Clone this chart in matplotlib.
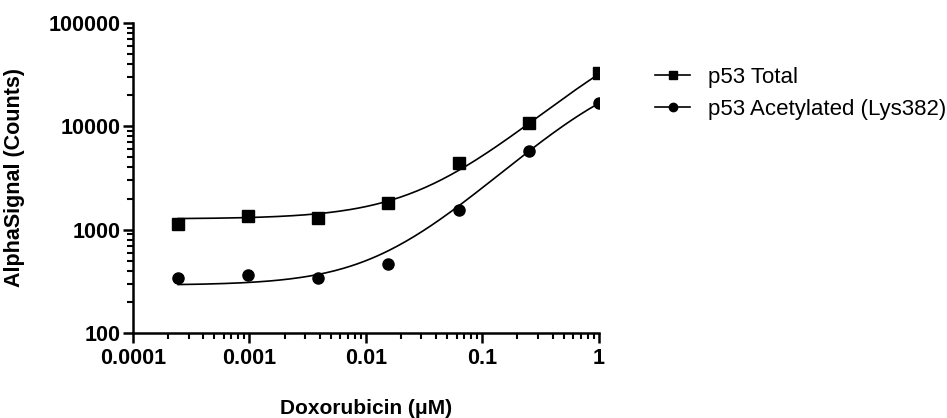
import matplotlib
matplotlib.use('Agg')
import matplotlib.pyplot as plt
import matplotlib.ticker as ticker
import numpy as np

plt.rcParams['font.family'] = ['Liberation Sans', 'DejaVu Sans']

# doxorubicin doses (uM), 4-fold dilutions
dose = [0.000244, 0.000977, 0.0039, 0.0156, 0.0625, 0.25, 1.0]
total = [1130, 1360, 1310, 1790, 4370, 10870, 32700]
acetyl = [342, 363, 342, 464, 1540, 5730, 16700]

# 4PL fit parameters (bottom, top, EC50, hill)
fit_total = (1270, 130270, 3.2, 1.0)
fit_acetyl = (290, 42790, 1.557, 1.05)

x_ticks = [0.0001, 0.001, 0.01, 0.1, 1]
x_labels = ['0.0001', '0.001', '0.01', '0.1', '1']
y_ticks = [100, 1000, 10000, 100000]
y_labels = ['100', '1000', '10000', '100000']


def four_pl(x, params):
    bottom, top, ec50, hill = params
    return bottom + (top - bottom) / (1 + (ec50 / x) ** hill)


fig = plt.figure(figsize=(9.47, 4.18), dpi=100)
ax = fig.add_axes([0.1404, 0.2033, 0.492, 0.742])

xs = np.logspace(np.log10(dose[0]), np.log10(dose[-1]), 200)
ax.plot(xs, four_pl(xs, fit_total), color='black', lw=1.2)
ax.plot(xs, four_pl(xs, fit_acetyl), color='black', lw=1.2)
ax.plot(dose, total, 's', color='black', ms=8, clip_on=True)
ax.plot(dose, acetyl, 'o', color='black', ms=8, clip_on=True)

ax.set_xscale('log')
ax.set_yscale('log')
ax.set_xlim(0.0001, 1)
ax.set_ylim(100, 100000)

for s in ['top', 'right']:
    ax.spines[s].set_visible(False)
for s in ['left', 'bottom']:
    ax.spines[s].set_linewidth(1.8)

ax.xaxis.set_major_locator(ticker.FixedLocator(x_ticks))
ax.xaxis.set_major_formatter(ticker.FixedFormatter(x_labels))
ax.xaxis.set_minor_locator(ticker.LogLocator(base=10, subs=np.arange(2, 10)))
ax.xaxis.set_minor_formatter(ticker.NullFormatter())
ax.yaxis.set_major_locator(ticker.FixedLocator(y_ticks))
ax.yaxis.set_major_formatter(ticker.FixedFormatter(y_labels))
ax.yaxis.set_minor_locator(ticker.LogLocator(base=10, subs=np.arange(2, 10)))
ax.yaxis.set_minor_formatter(ticker.NullFormatter())

ax.tick_params(which='major', length=7, width=1.8, direction='out', labelsize=15.5)
ax.tick_params(which='minor', length=4.5, width=1.5, direction='out')
ax.tick_params(axis='y', which='major', pad=2)
for lbl in ax.get_xticklabels() + ax.get_yticklabels():
    lbl.set_fontweight('bold')

ax.set_xlabel('Doxorubicin (\u03bcM)', fontsize=15, fontweight='bold')
ax.set_ylabel('AlphaSignal (Counts)', fontsize=15.5, fontweight='bold')
ax.xaxis.set_label_coords(0.5, -0.213)
ax.yaxis.set_label_coords(-0.232, 0.5)

h1, = ax.plot([], [], '-s', color='black', ms=6, lw=1.2)
h2, = ax.plot([], [], '-o', color='black', ms=6, lw=1.2)
fig.legend([h1, h2], ['p53 Total', 'p53 Acetylated (Lys382)'],
           loc='upper left', bbox_to_anchor=(0.682, 0.861), frameon=False,
           borderaxespad=0, fontsize=16, handlelength=1.6, handletextpad=0.8,
           labelspacing=0.5)

fig.savefig('out.png', dpi=100)
